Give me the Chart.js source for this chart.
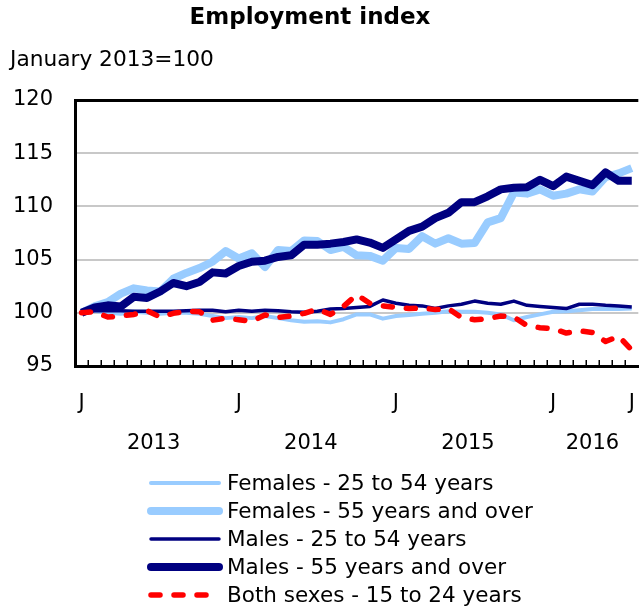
<!DOCTYPE html>
<html><head><meta charset="utf-8">
<script src="https://cdn.jsdelivr.net/npm/chart.js@4.4.0/dist/chart.umd.min.js"></script>
<style>
html,body{margin:0;padding:0;background:#fff;overflow:hidden;width:642px;height:608px;}
#wrap{position:relative;width:660px;height:608px;}
canvas{display:block;}
</style></head><body>
<div id="wrap"><canvas id="c" width="660" height="608"></canvas></div>
<script>
const FONT = '"DejaVu Sans", Verdana, sans-serif';
const titleText = 'Employment index';
const subtitleText = 'January 2013=100';
const years = [2013, 2014, 2015, 2016];
const monthNames = ['Jan','Feb','Mar','Apr','May','Jun','Jul','Aug','Sep','Oct','Nov','Dec'];
const monthCount = 43; // January 2013 to July 2016
const categories = [];
for (let i = 0; i < monthCount; i++) categories.push(monthNames[i % 12] + ' ' + years[Math.floor(i / 12)]);
const yTicks = [95, 100, 105, 110, 115, 120];

const seriesNames = [
  'Females - 25 to 54 years',
  'Females - 55 years and over',
  'Males - 25 to 54 years',
  'Males - 55 years and over',
  'Both sexes - 15 to 24 years'
];
const femalesCore = [100.0,100.2,100.0,99.9,100.1,100.0,99.9,100.0,100.0,99.9,99.7,99.5,99.6,99.5,99.7,
  99.5,99.3,99.15,99.2,99.1,99.4,99.85,99.85,99.45,99.7,99.8,99.9,100.0,
  100.15,100.1,100.1,100.0,99.85,99.3,99.6,99.85,100.1,100.15,100.25,100.35,100.35,100.35,100.4];
const femalesOlder = [100.0,100.6,101.0,101.8,102.3,102.1,102.0,103.2,103.75,104.2,104.8,105.8,105.1,105.6,104.3,
  105.9,105.8,106.8,106.75,105.9,106.2,105.4,105.35,104.9,106.1,106.0,107.2,106.5,
  107.0,106.5,106.55,108.5,108.9,111.3,111.2,111.6,111.0,111.2,111.6,111.4,112.75,113.1,113.6];
const malesCore = [100.0,100.2,100.2,100.2,100.15,100.15,100.15,100.15,100.2,100.25,100.25,100.1,100.25,100.15,100.25,
  100.2,100.1,100.05,100.15,100.35,100.4,100.5,100.6,101.2,100.9,100.7,100.65,100.4,
  100.65,100.8,101.1,100.9,100.8,101.1,100.7,100.6,100.5,100.4,100.8,100.8,100.7,100.65,100.55];
const malesOlder = [100.0,100.5,100.7,100.6,101.5,101.4,102.0,102.8,102.5,102.9,103.8,103.7,104.4,104.8,104.9,
  105.25,105.4,106.4,106.4,106.5,106.65,106.9,106.6,106.1,106.9,107.7,108.1,108.9,
  109.4,110.4,110.4,110.95,111.6,111.75,111.8,112.5,111.9,112.8,112.4,112.0,113.2,112.4,112.4];
const bothSexesYouth = [100.0,100.1,99.6,99.7,99.85,100.2,99.6,99.95,100.15,100.1,99.3,99.5,99.35,99.2,99.8,
  99.55,99.7,99.95,100.35,99.85,100.6,101.7,100.9,100.65,100.5,100.4,100.45,100.3,
  100.4,99.55,99.35,99.45,99.7,99.6,98.8,98.6,98.5,98.1,98.3,98.15,97.3,97.8,96.5];

const LIGHT = '#99CCFF', NAVY = '#000080', RED = '#FF0000';
const styles = [
  {color: LIGHT, width: 4, dash: [], order: 4},
  {color: LIGHT, width: 8, dash: [], order: 3},
  {color: NAVY, width: 3.5, dash: [], order: 2},
  {color: NAVY, width: 8, dash: [], order: 1},
  {color: RED, width: 5.5, dash: [9, 14], order: 0}
];
const seriesValues = [femalesCore, femalesOlder, malesCore, malesOlder, bothSexesYouth];

const datasets = seriesNames.map((name, k) => ({
  label: name,
  data: seriesValues[k],
  borderColor: styles[k].color,
  backgroundColor: styles[k].color,
  borderWidth: styles[k].width,
  borderDash: styles[k].dash,
  borderCapStyle: k === 4 ? 'round' : 'butt',
  borderJoinStyle: 'round',
  order: styles[k].order,
  pointRadius: 0,
  pointHoverRadius: 0,
  tension: 0,
  fill: false
}));

const decor = {
  id: 'decor',
  afterDraw(chart) {
    const ctx = chart.ctx;
    const xs = chart.scales.x;
    const area = chart.chartArea;
    ctx.save();
    // inside tick marks between months
    ctx.strokeStyle = '#000';
    ctx.lineWidth = 1.5;
    for (let k = 1; k < monthCount; k++) {
      const x = Math.round((xs.getPixelForValue(k - 1) + xs.getPixelForValue(k)) / 2) + 0.25;
      ctx.beginPath();
      ctx.moveTo(x, area.bottom);
      ctx.lineTo(x, area.bottom - 6);
      ctx.stroke();
    }
    ctx.fillStyle = '#000';
    // title
    ctx.font = 'bold 23px ' + FONT;
    ctx.textAlign = 'center';
    ctx.textBaseline = 'middle';
    ctx.fillText(titleText, 310, 18);
    // subtitle
    ctx.font = '21.7px ' + FONT;
    ctx.textAlign = 'left';
    ctx.fillText(subtitleText, 10, 60);
    // year labels
    ctx.font = '21px ' + FONT;
    ctx.textAlign = 'center';
    years.forEach((yr, j) => {
      const first = j * 12;
      const last = Math.min(first + 11, monthCount - 1);
      const x = (xs.getPixelForValue(first) + xs.getPixelForValue(last)) / 2;
      ctx.fillText(String(yr), x, 444);
    });
    // legend
    ctx.font = '21.5px ' + FONT;
    ctx.textAlign = 'left';
    seriesNames.forEach((name, k) => {
      const y = 483 + 28 * k;
      ctx.save();
      ctx.strokeStyle = styles[k].color;
      ctx.lineWidth = styles[k].width;
      ctx.lineCap = 'round';
      ctx.setLineDash(styles[k].dash);
      ctx.beginPath();
      ctx.moveTo(151, y);
      ctx.lineTo(219, y);
      ctx.stroke();
      ctx.restore();
      ctx.fillText(name, 227, y + 1);
    });
    ctx.restore();
  }
};

new Chart(document.getElementById('c'), {
  type: 'line',
  data: {labels: categories, datasets},
  options: {
    responsive: false,
    animation: false,
    devicePixelRatio: 1,
    layout: {padding: {top: 100, left: 0, right: 12, bottom: 0}},
    plugins: {legend: {display: false}, title: {display: false}, tooltip: {enabled: false}},
    scales: {
      x: {
        type: 'category',
        offset: true,
        grid: {display: false, drawTicks: false},
        border: {display: true, color: '#000', width: 3},
        ticks: {
          autoSkip: false, maxRotation: 0, minRotation: 0,
          color: '#000', font: {family: FONT, size: 21}, padding: 25,
          callback: (v, i) => (i % 12 === 0 || i === monthCount - 1) ? 'J' : ''
        },
        afterFit: (s) => { s.height = 242; }
      },
      y: {
        min: yTicks[0], max: yTicks[yTicks.length - 1],
        afterBuildTicks: (s) => { s.ticks = yTicks.map(v => ({value: v})); },
        grid: {
          drawTicks: false,
          color: (c) => c.tick && c.tick.value === 120 ? '#000' : (c.tick && c.tick.value === 95 ? 'rgba(0,0,0,0)' : '#C8C8C8'),
          lineWidth: (c) => c.tick && c.tick.value === 120 ? 3 : 2
        },
        border: {display: true, color: '#000', width: 3},
        ticks: {color: '#000', font: {family: FONT, size: 21}, padding: 22},
        afterFit: (s) => { s.width = 75; }
      }
    }
  },
  plugins: [decor]
});
</script>
</body></html>
